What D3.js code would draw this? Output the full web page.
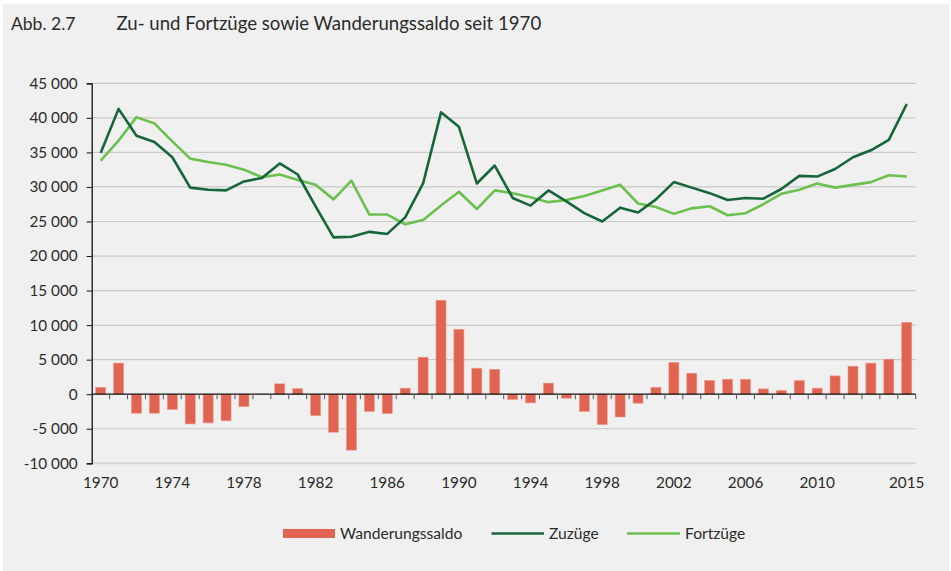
<!DOCTYPE html>
<html>
<head>
<meta charset="utf-8">
<script src="https://cdn.jsdelivr.net/npm/d3@7"></script>
<style>
  body { margin: 0; background: #ffffff; }
  text { font-family: Lato, "Open Sans", sans-serif; fill: #2b2b2b; }
</style>
</head>
<body>
<div id="chart"></div>
<script>
// Jahre 1970 bis 2015
const years = d3.range(1970, 2016);

// Zuzüge (dunkelgrüne Linie)
const zuzuege = [
  34900, 41300, 37400, 36500, 34300, 29900, 29600, 29500, 30800, 31300,
  33400, 31800, 27200, 22700, 22800, 23500, 23200, 25600, 30500, 40800,
  38700, 30500, 33100, 28400, 27300, 29500, 27900, 26200, 25000, 27000,
  26300, 28200, 30700, 29900, 29100, 28100, 28400, 28300, 29700, 31600,
  31500, 32600, 34300, 35300, 36800, 42000
];

// Fortzüge (hellgrüne Linie)
const fortzuege = [
  33800, 36700, 40100, 39200, 36600, 34100, 33600, 33200, 32500, 31400,
  31800, 31000, 30300, 28200, 30900, 26000, 26000, 24600, 25200, 27300,
  29300, 26800, 29500, 29100, 28500, 27800, 28100, 28700, 29500, 30300,
  27600, 27100, 26100, 26900, 27200, 25900, 26200, 27500, 29000, 29600,
  30500, 29900, 30300, 30700, 31700, 31500
];

// Wanderungssaldo (Balken)
const saldo = [
  1000, 4500, -2750, -2750, -2200, -4300, -4150, -3850, -1800, 0,
  1500, 800, -3100, -5500, -8100, -2500, -2800, 870, 5360, 13600,
  9400, 3760, 3600, -770, -1250, 1600, -580, -2500, -4400, -3300,
  -1300, 1000, 4600, 3040, 2000, 2170, 2170, 770, 530, 1980,
  870, 2650, 4050, 4500, 5070, 10400
];

const yTicks = [-10000, -5000, 0, 5000, 10000, 15000, 20000, 25000, 30000, 35000, 40000, 45000];
const xLabelYears = [1970, 1974, 1978, 1982, 1986, 1990, 1994, 1998, 2002, 2006, 2010, 2015];

const width = 951, height = 571;
const margin = { left: 91.7, right: 35.3, top: 83.3, bottom: 107.7 };

const colBar = '#e06451';
const colDark = '#17663a';
const colLight = '#6cc04e';

const svg = d3.select('#chart').append('svg')
  .attr('width', width)
  .attr('height', height);

// Hintergrundfläche
svg.append('rect')
  .attr('x', 3).attr('y', 4)
  .attr('width', 946).attr('height', height - 4)
  .attr('fill', '#eff0ef');

// Titel
svg.append('text')
  .attr('x', 11).attr('y', 30)
  .attr('font-size', 17.5)
  .text('Abb. 2.7');
svg.append('text')
  .attr('x', 116.5).attr('y', 30)
  .attr('font-size', 18.6)
  .text('Zu- und Fortzüge sowie Wanderungssaldo seit 1970');

const x = d3.scaleBand()
  .domain(years)
  .range([margin.left, width - margin.right])
  .paddingInner(0.44)
  .paddingOuter(0.22);

const y = d3.scaleLinear()
  .domain([-10000, 45000])
  .range([height - margin.bottom, margin.top]);

const step = x.step();
const xLeft = margin.left, xRight = width - margin.right;
const cx = yr => x(yr) + x.bandwidth() / 2;

// Gitterlinien
svg.append('g')
  .selectAll('line')
  .data(yTicks.filter(d => d !== 0))
  .join('line')
  .attr('x1', xLeft).attr('x2', xRight)
  .attr('y1', d => y(d)).attr('y2', d => y(d))
  .attr('stroke', d => d === -10000 ? '#d6d6d6' : '#c9c9c9')
  .attr('stroke-width', d => d === -10000 ? 2 : 1.2);

// Y-Achse
const yAxis = d3.axisLeft(y)
  .tickValues(yTicks)
  .tickSize(5)
  .tickPadding(9)
  .tickFormat(d => (d < 0 ? '-' : '') + d3.format(',')(Math.abs(d)).replace(/,/g, ' '));

const gy = svg.append('g')
  .attr('transform', `translate(${xLeft},0)`)
  .call(yAxis);
gy.select('.domain').attr('stroke', '#111').attr('stroke-width', 1.3);
gy.selectAll('.tick line').attr('stroke', '#111');
gy.selectAll('.tick text')
  .attr('font-size', 15.3)
  .attr('font-family', 'Lato, "Open Sans", sans-serif')
  .attr('fill', '#2b2b2b');

// Balken Wanderungssaldo
svg.append('g')
  .selectAll('rect')
  .data(years.map((yr, i) => ({ yr, v: saldo[i] })))
  .join('rect')
  .attr('x', d => x(d.yr))
  .attr('width', x.bandwidth())
  .attr('y', d => y(Math.max(0, d.v)))
  .attr('height', d => Math.abs(y(d.v) - y(0)))
  .attr('fill', colBar)
  .attr('stroke', '#eb9a8c')
  .attr('stroke-width', 0.6);

// Nulllinie mit Kategorie-Ticks
svg.append('line')
  .attr('x1', xLeft).attr('x2', xRight)
  .attr('y1', y(0)).attr('y2', y(0))
  .attr('stroke', '#111').attr('stroke-width', 1.3);

svg.append('g')
  .selectAll('line')
  .data(years)
  .join('line')
  .attr('x1', d => x(d) + x.bandwidth() + (step - x.bandwidth()) / 2)
  .attr('x2', d => x(d) + x.bandwidth() + (step - x.bandwidth()) / 2)
  .attr('y1', y(0)).attr('y2', y(0) + 5)
  .attr('stroke', '#555').attr('stroke-width', 1);

// Linien
const line = d3.line()
  .x(d => cx(d.yr))
  .y(d => y(d.v));

svg.append('path')
  .datum(years.map((yr, i) => ({ yr, v: fortzuege[i] })))
  .attr('d', line)
  .attr('fill', 'none')
  .attr('stroke', colLight)
  .attr('stroke-width', 2.6)
  .attr('stroke-linejoin', 'round');

svg.append('path')
  .datum(years.map((yr, i) => ({ yr, v: zuzuege[i] })))
  .attr('d', line)
  .attr('fill', 'none')
  .attr('stroke', colDark)
  .attr('stroke-width', 2.6)
  .attr('stroke-linejoin', 'round');

// X-Achsenbeschriftung
svg.append('g')
  .selectAll('text')
  .data(xLabelYears)
  .join('text')
  .attr('x', d => cx(d))
  .attr('y', 488)
  .attr('text-anchor', 'middle')
  .attr('font-size', 15.3)
  .text(d => d);

// Legende
const legend = svg.append('g');
legend.append('rect')
  .attr('x', 283).attr('y', 529)
  .attr('width', 52).attr('height', 9)
  .attr('fill', colBar);
legend.append('text')
  .attr('x', 340).attr('y', 539)
  .attr('font-size', 15.6)
  .text('Wanderungssaldo');

legend.append('line')
  .attr('x1', 491.5).attr('x2', 544)
  .attr('y1', 533.5).attr('y2', 533.5)
  .attr('stroke', colDark).attr('stroke-width', 2.6);
legend.append('text')
  .attr('x', 549).attr('y', 539)
  .attr('font-size', 15.6)
  .text('Zuzüge');

legend.append('line')
  .attr('x1', 627).attr('x2', 680)
  .attr('y1', 533.5).attr('y2', 533.5)
  .attr('stroke', colLight).attr('stroke-width', 2.6);
legend.append('text')
  .attr('x', 685).attr('y', 539)
  .attr('font-size', 15.6)
  .text('Fortzüge');
</script>
</body>
</html>
